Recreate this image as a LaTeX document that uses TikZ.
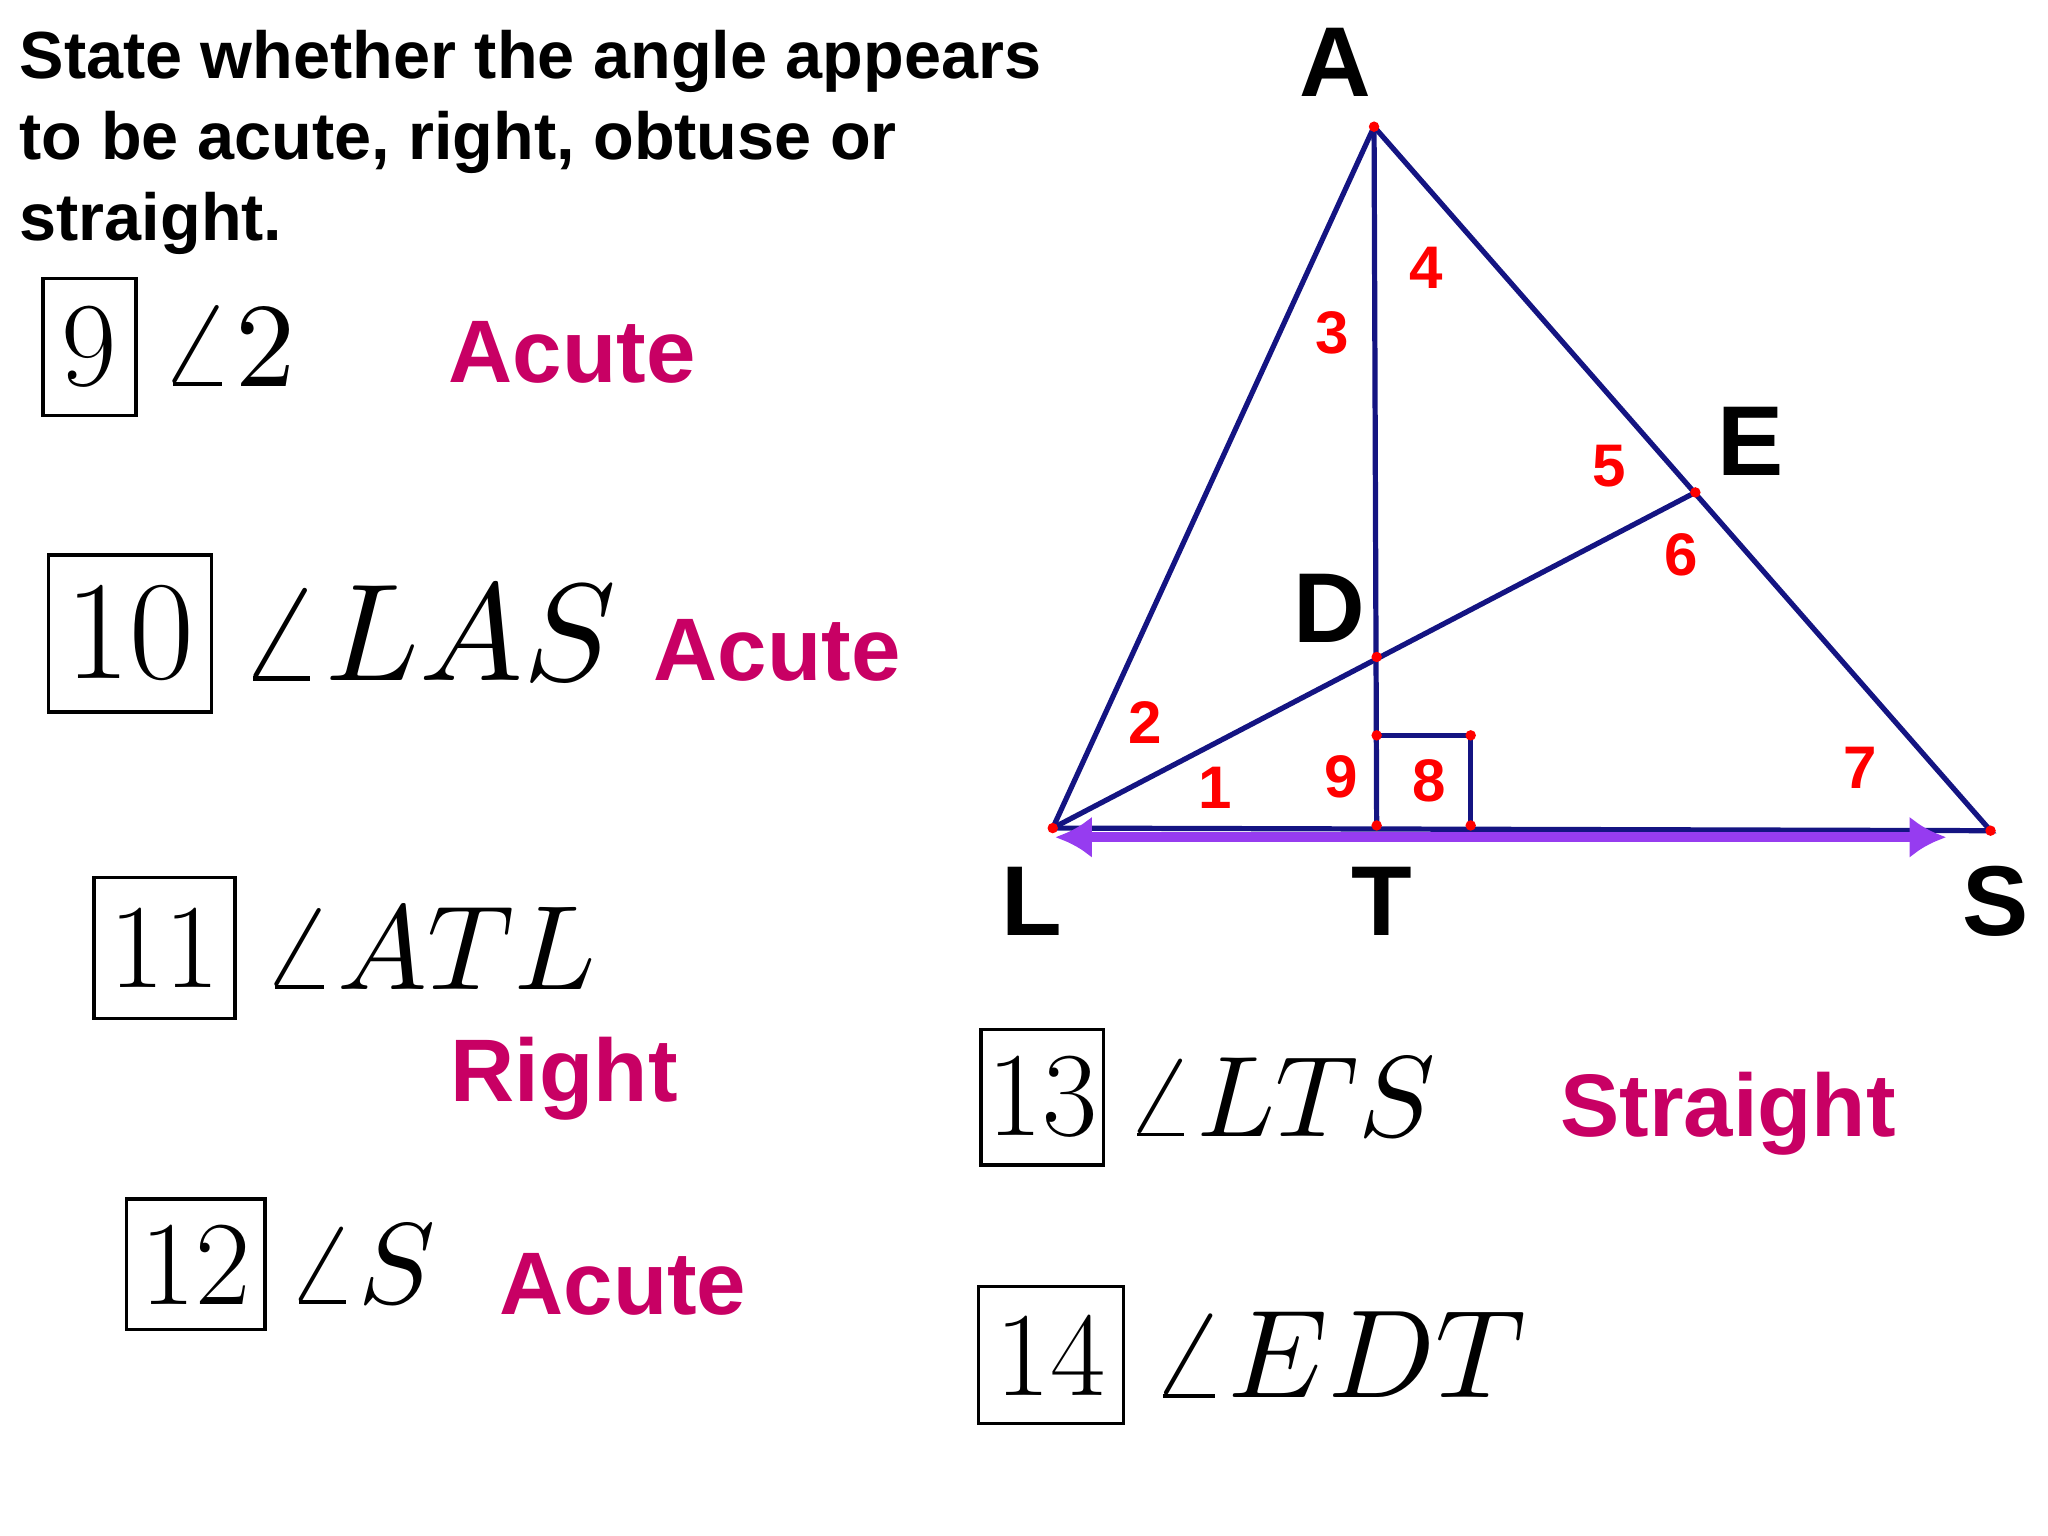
\documentclass[tikz,border=0pt]{standalone}
\usepackage{fontspec}
\setsansfont{Liberation Sans}
\usetikzlibrary{arrows.meta}
\definecolor{navy}{RGB}{20,20,130}
\definecolor{ans}{RGB}{200,0,100}
\definecolor{purp}{RGB}{150,60,240}
\tikzset{
 seg/.style={navy,line width=2pt},
 pt/.style={circle,fill=red,inner sep=0pt,minimum size=4pt},
 lab/.style={font=\sffamily\bfseries\fontsize{38}{40}\selectfont},
 num/.style={red,font=\sffamily\bfseries\fontsize{23}{25}\selectfont},
 answer/.style={ans,font=\sffamily\bfseries\fontsize{34}{36}\selectfont},
 qbox/.style={draw,line width=1.3pt,inner sep=0pt,font=\fontsize{46}{48}\selectfont},
 qtxt/.style={anchor=west,inner sep=0pt},
}
\newcommand{\angtxt}[2]{\scalebox{#1}{$\angle #2$}}
\begin{document}
\begin{tikzpicture}[x=0.5pt,y=-0.5pt]
\useasboundingbox (0,0) rectangle (1568,1176);
\node[anchor=north west,align=left,font=\sffamily\bfseries\fontsize{25.5}{31}\selectfont] (title) at (8,16) {State whether the angle appears\\to be acute, right, obtuse or\\straight.};
% points
\coordinate (A) at (1052,97); \coordinate (L) at (806,634); \coordinate (S) at (1524,636);
\coordinate (E) at (1298,377); \coordinate (D) at (1054,503); \coordinate (T) at (1054,632);
\coordinate (q1) at (1054,563); \coordinate (q2) at (1126,563); \coordinate (q3) at (1126,632);
\draw[seg] (A)--(L)--(S)--(A);
\draw[seg] (A)--(T); \draw[seg] (L)--(E);
\draw[seg] (q1)--(q2)--(q3);
\coordinate (al) at (808,641); \coordinate (ar) at (1490,641);
\draw[purp,line width=4pt,{Latex[length=14pt,width=16pt]}-{Latex[length=14pt,width=16pt]}] (al)--(ar);
\foreach \p in {A,L,S,E,D,T,q1,q2,q3} \node[pt] at (\p) {};
\node[lab] at (1022,48) {A}; \node[lab] at (1340,338) {E}; \node[lab] at (1018,466) {D};
\node[lab] at (790,690) {L}; \node[lab] at (1058,690) {T}; \node[lab] at (1528,690) {S};
\node[num] at (1092,205) {4}; \node[num] at (1020,255) {3}; \node[num] at (1232,357) {5};
\node[num] at (1287,425) {6}; \node[num] at (877,553) {2}; \node[num] at (930,603) {1};
\node[num] at (1027,595) {9}; \node[num] at (1094,598) {8}; \node[num] at (1424,588) {7};
% questions
\node[qbox,minimum width=35.5pt,minimum height=52.5pt] (b9) at (68.5,265.5) {9};
\node[qtxt] at ([xshift=8pt]b9.east) {\angtxt{4.6}{2}};
\node[qbox,minimum width=62.5pt,minimum height=60pt,font=\fontsize{54}{56}\selectfont] (b10) at (99.5,485) {10};
\node[qtxt] at ([xshift=9pt]b10.east) {\angtxt{5.3}{LAS}};
\node[qbox,minimum width=54pt,minimum height=54pt] (b11) at (126,726) {11};
\node[qtxt] at ([xshift=9pt]b11.east) {\angtxt{4.6}{ATL}};
\node[qbox,minimum width=53pt,minimum height=50pt] (b12) at (150,968) {12};
\node[qtxt] at ([xshift=7pt]b12.east) {\angtxt{4.4}{S}};
\node[qbox,minimum width=47pt,minimum height=52pt] (b13) at (798,840) {13};
\node[qtxt] at ([xshift=7pt]b13.east) {\angtxt{4.4}{LTS}};
\node[qbox,minimum width=55.5pt,minimum height=52.5pt] (b14) at (804.5,1037.5) {14};
\node[qtxt] at ([xshift=9pt]b14.east) {\angtxt{4.8}{EDT}};
% answers
\node[answer] (a9) at (438,270) {Acute};
\node[answer] (a10) at (595,498) {Acute};
\node[answer] (a11) at (432,826) {Right};
\node[answer] (a12) at (477,983) {Acute};
\node[answer] (a13) at (1323,853) {Straight};
\end{tikzpicture}
\end{document}
